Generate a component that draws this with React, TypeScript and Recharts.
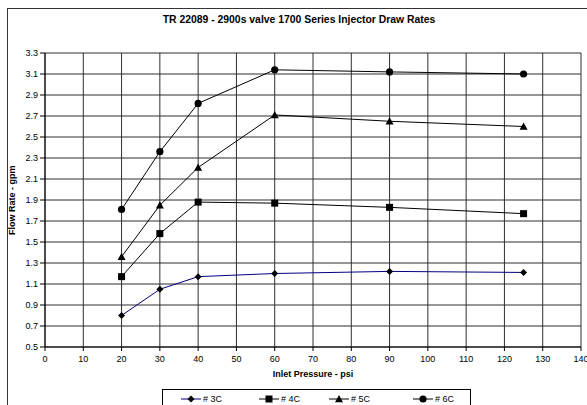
import React from "react";
import { LineChart, Line, XAxis, YAxis, CartesianGrid } from "recharts";

const pressures = [20, 30, 40, 60, 90, 125];
const series3C = [0.8, 1.05, 1.17, 1.2, 1.22, 1.21];
const series4C = [1.17, 1.58, 1.88, 1.87, 1.83, 1.77];
const series5C = [1.36, 1.85, 2.21, 2.71, 2.65, 2.6];
const series6C = [1.81, 2.36, 2.82, 3.14, 3.12, 3.1];
const xTicks = [0, 10, 20, 30, 40, 50, 60, 70, 80, 90, 100, 110, 120, 130, 140];
const yTicks = [0.5, 0.7, 0.9, 1.1, 1.3, 1.5, 1.7, 1.9, 2.1, 2.3, 2.5, 2.7, 2.9, 3.1, 3.3];
const title = "TR 22089 - 2900s valve 1700 Series Injector Draw Rates";
const xTitle = "Inlet Pressure - psi";
const yTitle = "Flow Rate - gpm";

const seriesDefs = [
  { key: "c3", name: "# 3C", values: series3C, color: "#000080", shape: "diamond" },
  { key: "c4", name: "# 4C", values: series4C, color: "#000000", shape: "square" },
  { key: "c5", name: "# 5C", values: series5C, color: "#000000", shape: "triangle" },
  { key: "c6", name: "# 6C", values: series6C, color: "#000000", shape: "circle" },
];

const data = pressures.map((p, i) => {
  const row: any = { p };
  seriesDefs.forEach((s) => (row[s.key] = s.values[i]));
  return row;
});

const FONT = '"Liberation Sans", Arial, sans-serif';

function Marker({ shape, cx, cy }: { shape: string; cx: number; cy: number }) {
  if (shape === "diamond") {
    const r = 3.5;
    return <polygon points={`${cx},${cy - r} ${cx + r},${cy} ${cx},${cy + r} ${cx - r},${cy}`} fill="#000" />;
  }
  if (shape === "square") {
    const r = 3.5;
    return <rect x={cx - r} y={cy - r} width={2 * r} height={2 * r} fill="#000" />;
  }
  if (shape === "triangle") {
    const r = 4;
    return <polygon points={`${cx},${cy - r} ${cx + r},${cy + r * 0.8} ${cx - r},${cy + r * 0.8}`} fill="#000" />;
  }
  return <circle cx={cx} cy={cy} r={3.6} fill="#000" />;
}

function makeDot(shape: string) {
  return (props: any) => {
    const { cx, cy, index } = props;
    if (cx == null || cy == null) return <g key={index} />;
    return <Marker key={index} shape={shape} cx={cx} cy={cy} />;
  };
}

const legendOffsets = [18, 96, 166, 250];

export default function App() {
  return (
    <div style={{ position: "absolute", left: 0, top: 0, width: 587, height: 405, overflow: "hidden", background: "#fff", fontFamily: FONT }}>
      <div style={{ position: "absolute", left: 7, top: 8, width: 620, height: 440, border: "1px solid #333", boxSizing: "border-box" }} />
      <div style={{ position: "absolute", left: 0, top: 14, width: 598, textAlign: "center", fontSize: 10.4, fontWeight: "bold", color: "#000" }}>
        {title}
      </div>
      <LineChart
        width={587}
        height={405}
        data={data}
        margin={{ top: 53, right: 6, bottom: 28, left: 8 }}
        style={{ position: "absolute", left: 0, top: 0 }}
      >
        <CartesianGrid stroke="#2e2e2e" strokeWidth={1} />
        <XAxis
          dataKey="p"
          type="number"
          domain={[0, 140]}
          ticks={xTicks}
          interval={0}
          height={30}
          tickSize={4}
          tickMargin={5}
          stroke="#000"
          tick={{ fill: "#000", fontSize: 9, fontFamily: FONT }}
          label={{ value: xTitle, position: "insideBottom", offset: 0, fill: "#000", fontSize: 9, fontWeight: "bold", fontFamily: FONT }}
        />
        <YAxis
          type="number"
          domain={[0.5, 3.3]}
          ticks={yTicks}
          interval={0}
          width={37}
          tickSize={5}
          tickMargin={2}
          stroke="#000"
          tickFormatter={(v: number) => v.toFixed(1)}
          tick={{ fill: "#000", fontSize: 9, fontFamily: FONT }}
          label={{ value: yTitle, angle: -90, position: "insideLeft", offset: 4, dy: 35, fill: "#000", fontSize: 9, fontWeight: "bold", fontFamily: FONT }}
        />
        {seriesDefs.map((s) => (
          <Line
            key={s.key}
            dataKey={s.key}
            name={s.name}
            type="linear"
            stroke={s.color}
            strokeWidth={1}
            dot={makeDot(s.shape)}
            activeDot={false}
            isAnimationActive={false}
          />
        ))}
      </LineChart>
      <div style={{ position: "absolute", left: 162, top: 389, width: 309, height: 30, border: "1px solid #000", boxSizing: "border-box", background: "#fff" }}>
        {seriesDefs.map((s, i) => (
          <div key={s.key} style={{ position: "absolute", left: legendOffsets[i], top: 2, height: 14, display: "flex", alignItems: "center" }}>
            <svg width={22} height={12}>
              <line x1={0} y1={6} x2={20} y2={6} stroke={s.color} strokeWidth={1} />
              <Marker shape={s.shape} cx={10} cy={6} />
            </svg>
            <span style={{ fontSize: 9, color: "#000", marginLeft: 0 }}>{s.name}</span>
          </div>
        ))}
      </div>
    </div>
  );
}
